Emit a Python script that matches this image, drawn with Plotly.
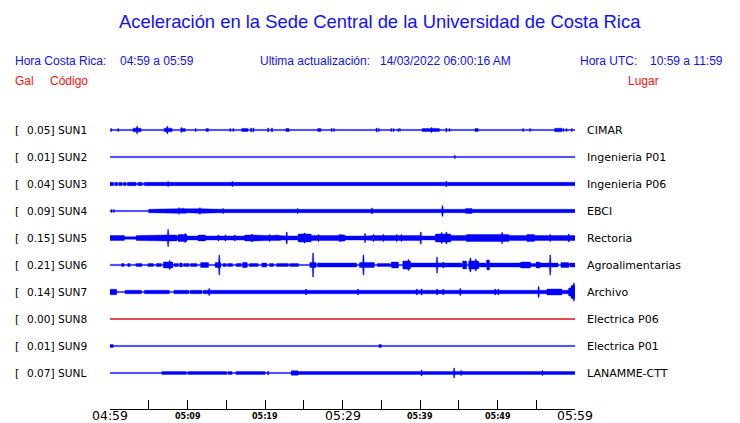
import numpy as np
import plotly.graph_objects as go

# ---------------- data ----------------
CODES = ["SUN1", "SUN2", "SUN3", "SUN4", "SUN5", "SUN6", "SUN7", "SUN8", "SUN9", "SUNL"]
PEAK_GAL = ["0.05", "0.01", "0.04", "0.09", "0.15", "0.21", "0.14", "0.00", "0.01", "0.07"]
PLACES = ["CIMAR", "Ingenieria P01", "Ingenieria P06", "EBCI", "Rectoria",
          "Agroalimentarias", "Archivo", "Electrica P06", "Electrica P01", "LANAMME-CTT"]
TRACE_COLORS = ["#0000ff"] * 7 + ["#dd0000"] + ["#0000ff"] * 2

TICK_MINUTES = list(range(0, 61, 5))
TICK_LABELS = {0: "04:59", 10: "05:09", 20: "05:19", 30: "05:29", 40: "05:39", 50: "05:49", 60: "05:59"}
BIG_TICKS = [0, 30, 60]

# envelope (relative amplitude) read from the record: baseline level,
# (start_min, end_min, level) segments, and (minute, level) short bursts
BASE = [0.6, 0.6, 1.7, 1.7, 2.0, 0.6, 1.8, 0.5, 0.6, 0.6]

SEGS = {
    "SUN1": [(3.0, 4.0, 1.8), (5.7, 6.0, 1.0), (7.0, 8.0, 1.8), (9.2, 9.7, 1.5), (12.4, 12.7, 1.5),
             (17.0, 17.8, 1.5), (22.7, 23.1, 1.5), (26.8, 27.2, 1.5), (40.3, 42.5, 1.5), (46.2, 46.7, 1.3),
             (47.1, 47.5, 1.5), (47.9, 48.4, 1.2), (54.8, 55.3, 1.3), (57.4, 58.3, 1.8)],
    "SUN2": [],
    "SUN3": [(0.5, 0.6, 0.6), (1.0, 1.1, 0.6), (1.6, 1.7, 0.6), (2.1, 2.2, 0.6), (3.4, 3.6, 0.8),
             (4.2, 4.4, 0.8), (12.9, 13.0, 1.0), (14.7, 14.8, 1.0), (19.6, 19.7, 1.0), (28.0, 28.1, 1.0)],
    "SUN4": [(0.0, 4.95, 0.6), (8.6, 9.9, 2.3), (11.0, 12.0, 2.3), (16.6, 16.9, 2.3), (18.9, 19.6, 2.0),
             (35.7, 36.0, 2.3), (36.8, 37.4, 2.3), (38.1, 38.5, 2.0), (39.1, 39.8, 2.3), (45.9, 46.7, 2.5),
             (47.1, 49.9, 2.0), (50.3, 52.9, 2.0), (56.6, 57.0, 2.0), (57.6, 58.1, 2.0), (58.9, 59.7, 1.8)],
    "SUN5": [(0.0, 1.9, 2.5), (1.9, 3.9, 1.2), (3.4, 5.8, 2.5), (5.8, 7.3, 2.5), (7.3, 8.6, 3.0),
             (8.8, 9.9, 3.5), (11.4, 12.3, 3.0), (17.4, 19.6, 3.0), (19.6, 22.0, 2.5), (24.3, 26.0, 4.0),
             (26.0, 29.7, 2.5), (29.7, 30.3, 3.0), (33.1, 40.0, 2.5), (42.0, 44.0, 4.0), (44.0, 46.0, 2.5),
             (46.0, 51.5, 3.5), (51.5, 53.8, 2.5), (53.8, 54.8, 3.5), (54.8, 60.0, 2.5)],
    "SUN6": [(1.5, 1.8, 1.5), (2.3, 2.6, 1.5), (3.2, 3.3, 1.2), (3.4, 4.1, 1.5), (4.5, 4.6, 1.2),
             (4.9, 5.6, 1.5), (6.0, 6.6, 1.5), (6.9, 8.1, 3.0), (8.3, 8.8, 1.5), (9.0, 9.3, 2.0),
             (9.5, 10.2, 1.5), (10.4, 11.2, 1.5), (11.7, 12.7, 2.5), (13.6, 14.3, 2.5), (14.6, 15.0, 1.5),
             (15.2, 15.8, 1.5), (16.3, 16.9, 1.5), (17.1, 17.7, 2.5), (18.0, 19.1, 1.5), (19.6, 20.2, 2.0),
             (20.6, 21.1, 1.5), (21.5, 23.0, 1.5), (23.2, 24.3, 1.5), (24.5, 24.7, 1.2), (25.8, 26.6, 2.5),
             (26.8, 31.8, 2.0), (32.2, 34.1, 2.5), (34.5, 36.2, 1.5), (36.3, 37.2, 3.0), (37.8, 38.8, 4.0),
             (38.8, 45.4, 2.0), (45.5, 46.0, 4.0), (46.3, 47.6, 4.0), (47.6, 48.5, 2.0), (48.6, 49.0, 5.0),
             (49.0, 53.0, 2.0), (53.0, 54.3, 3.0), (54.3, 55.0, 1.5), (55.0, 55.5, 3.0), (55.5, 57.8, 2.0),
             (58.2, 59.2, 2.5), (59.3, 60.0, 2.0)],
    "SUN7": [(0.0, 0.9, 2.8), (0.9, 1.9, 0.6), (4.1, 4.4, 0.6), (7.7, 8.2, 0.6), (10.2, 10.3, 0.6),
             (11.9, 12.0, 0.6), (47.1, 48.6, 2.5), (56.4, 58.3, 3.0), (59.2, 59.5, 4.0), (59.5, 60.0, 6.5)],
    "SUN8": [],
    "SUN9": [(0.0, 0.4, 1.5), (34.7, 35.0, 1.5), (43.7, 45.4, 1.3), (45.9, 46.9, 1.3), (51.7, 52.5, 1.2)],
    "SUNL": [(6.7, 20.0, 1.4), (9.9, 10.0, 0.6), (15.1, 15.2, 0.6), (15.8, 16.2, 0.6), (23.4, 24.3, 2.3),
             (24.3, 60.0, 1.5)],
}

BURSTS = {
    "SUN1": [(0.13, 1.5), (1.07, 1.5), (3.5, 3.7), (6.4, 1.0), (7.4, 3.7), (9.2, 2.5), (11.05, 1.5),
             (14.9, 1.0), (15.5, 1.5), (15.9, 1.5), (18.2, 2.0), (18.5, 2.0), (20.4, 2.0), (20.9, 2.0),
             (22.9, 2.0), (28.2, 1.2), (28.6, 1.5), (28.9, 1.5), (29.5, 1.2), (29.8, 1.2), (30.2, 1.2),
             (31.4, 1.2), (32.0, 1.0), (32.7, 1.0), (34.4, 2.0), (34.7, 1.5), (36.3, 1.5), (36.6, 1.5),
             (37.2, 1.5), (37.4, 1.5), (41.5, 2.5), (43.4, 2.0), (43.8, 1.5), (44.5, 1.2), (45.2, 1.2),
             (45.5, 1.2), (47.3, 2.0), (49.0, 1.2), (49.4, 1.2), (49.9, 1.2), (52.0, 1.0), (52.9, 1.2),
             (53.3, 1.5), (53.8, 1.2), (54.2, 1.5), (57.9, 2.2), (58.5, 1.5), (58.9, 1.5), (59.3, 1.2),
             (59.6, 1.5)],
    "SUN2": [(44.5, 1.6), (46.0, 1.0), (46.3, 1.2), (46.7, 1.0), (47.2, 1.0), (47.7, 1.0), (56.8, 1.2)],
    "SUN3": [(7.5, 2.5), (15.8, 2.5), (43.4, 2.8)],
    "SUN4": [(0.2, 1.5), (0.5, 1.5), (1.7, 1.0), (2.6, 1.0), (3.1, 1.0), (3.4, 1.0), (3.7, 1.2), (4.0, 1.2),
             (4.4, 1.2), (8.9, 3.2), (9.5, 2.8), (11.6, 3.2), (14.6, 2.5), (17.9, 2.0), (20.9, 2.0),
             (24.2, 2.5), (26.9, 2.2), (27.3, 2.2), (28.6, 2.0), (30.9, 2.0), (33.8, 3.0), (42.9, 5.3),
             (44.5, 1.8), (46.2, 3.0), (55.7, 2.0)],
    "SUN5": [(7.5, 8.5), (9.7, 4.5), (14.0, 3.0), (14.9, 3.0), (16.1, 3.0), (18.3, 4.0), (20.6, 3.5),
             (21.7, 3.0), (22.8, 6.0), (25.1, 5.0), (26.9, 3.5), (29.6, 3.5), (30.0, 3.5), (32.9, 4.5),
             (34.0, 3.5), (35.3, 3.5), (37.0, 3.5), (37.6, 3.5), (40.1, 6.0), (42.8, 5.5), (43.4, 6.0),
             (44.9, 3.0), (46.4, 3.0), (47.2, 4.0), (50.6, 5.5), (56.8, 3.5), (59.2, 4.0)],
    "SUN6": [(7.7, 4.5), (12.2, 3.0), (14.1, 10.0), (16.8, 2.0), (26.2, 12.0), (32.7, 10.0), (38.5, 5.5),
             (42.2, 8.0), (43.0, 3.0), (46.5, 7.0), (47.2, 6.0), (48.8, 5.0), (56.8, 10.0)],
    "SUN7": [(0.4, 3.5), (12.8, 3.5), (15.0, 2.5), (19.9, 2.5), (21.0, 2.5), (22.1, 2.5), (23.0, 2.5),
             (25.3, 3.0), (28.1, 2.5), (29.6, 2.5), (32.0, 3.0), (35.3, 2.5), (37.4, 2.5), (39.6, 3.0),
             (40.2, 3.0), (42.2, 3.0), (43.0, 3.0), (43.7, 2.5), (45.2, 3.5), (49.7, 3.0), (50.1, 3.0),
             (51.2, 2.5), (51.6, 2.5), (53.3, 2.5), (55.3, 5.5), (59.85, 9.0)],
    "SUN8": [],
    "SUN9": [(4.5, 1.1), (5.2, 1.1), (8.9, 1.0), (13.0, 1.2), (13.3, 1.2), (14.0, 1.0), (15.8, 1.2),
             (17.2, 1.2), (17.5, 1.2), (18.4, 1.0), (26.1, 1.2), (26.8, 1.0), (27.7, 1.0), (30.1, 1.0),
             (32.0, 1.0), (37.9, 1.0), (42.4, 1.0), (43.0, 1.0), (48.0, 1.0), (50.3, 1.0), (53.1, 1.0),
             (54.4, 1.0), (55.2, 1.2), (55.5, 1.2), (56.6, 1.0), (59.0, 1.2)],
    "SUNL": [(0.2, 1.0), (0.6, 1.0), (1.9, 1.0), (2.6, 1.0), (3.2, 1.0), (4.1, 1.0), (4.7, 1.0), (5.8, 1.0),
             (6.2, 1.0), (20.4, 2.0), (20.9, 1.3), (21.5, 1.3), (22.2, 1.3), (22.8, 1.3), (40.2, 3.0),
             (44.4, 5.0), (45.3, 2.5), (55.8, 2.5), (58.8, 2.0), (59.6, 2.0)],
}

HEADER_TITLE = "Aceleración en la Sede Central de la Universidad de Costa Rica"

# ---------------- figure ----------------
OFF = 8                      # page body margin of the browser
W, H = 740 - OFF, 423 - OFF
PLOT_L, PLOT_R, PLOT_T, PLOT_B = 110, 575, 110, 409   # target page pixels
ML, MT = PLOT_L - OFF, PLOT_T - OFF
MR = W - (PLOT_R - OFF)
MB = H - (PLOT_B - OFF)
PLOT_W = PLOT_R - PLOT_L
PLOT_H = PLOT_B - PLOT_T
ROW_PX = 27.0
FIRST_ROW_PX = 130.0
y_top = -(FIRST_ROW_PX - PLOT_T) / ROW_PX
y_bot = y_top + PLOT_H / ROW_PX
AMP = 1.0 / ROW_PX

t = np.arange(0.0, 60.0 + 1e-9, 0.05)
fig = go.Figure()

for i, code in enumerate(CODES):
    env = np.full_like(t, BASE[i])
    for (a, b, v) in SEGS[code]:
        env[(t >= a - 1e-9) & (t <= b + 1e-9)] = v
    for (m, v) in BURSTS[code]:
        mask = np.abs(t - m) <= 0.075
        env[mask] = np.maximum(env[mask], v)
    upper = i + env * AMP
    lower = i - env * AMP
    xs = np.concatenate([t, t[::-1]])
    ys = np.concatenate([upper, lower[::-1]])
    fig.add_trace(go.Scatter(x=xs, y=ys, mode="lines", fill="toself",
                             fillcolor=TRACE_COLORS[i],
                             line=dict(color=TRACE_COLORS[i], width=0.4),
                             hoverinfo="skip", showlegend=False))

def px_to_paper_x(px):
    return (px - PLOT_L) / PLOT_W

def px_to_paper_y(py):
    return (PLOT_B - py) / PLOT_H

ann = []
LBL_FONT = dict(family="DejaVu Sans", size=11, color="black")
for i, code in enumerate(CODES):
    ann.append(dict(x=px_to_paper_x(13), xref="paper", y=i, yref="y", text="[",
                    xanchor="left", yanchor="middle", showarrow=False, font=LBL_FONT))
    ann.append(dict(x=px_to_paper_x(25), xref="paper", y=i, yref="y",
                    text=f"{PEAK_GAL[i]}] {code}",
                    xanchor="left", yanchor="middle", showarrow=False,
                    font=dict(family="DejaVu Sans", size=10.6, color="black")))
    ann.append(dict(x=px_to_paper_x(585), xref="paper", y=i, yref="y", text=PLACES[i],
                    xanchor="left", yanchor="middle", showarrow=False, font=LBL_FONT))

for m, lab in TICK_LABELS.items():
    big = m in BIG_TICKS
    ann.append(dict(x=m, xref="x", y=px_to_paper_y(415 if big else 416), yref="paper", text=lab,
                    xanchor="center", yanchor="middle", showarrow=False, borderpad=0,
                    font=dict(family="DejaVu Sans", size=12.5 if big else 8,
                              weight="normal" if big else "bold", color="black")))

BLUE = "#1010ff"
RED = "#ff1010"
HFONT = dict(family="Liberation Sans, Arial", size=12, color=BLUE)
ann.append(dict(x=px_to_paper_x(380), xref="paper", y=px_to_paper_y(22), yref="paper",
                text=HEADER_TITLE, xanchor="center", yanchor="middle", showarrow=False,
                font=dict(family="Liberation Sans, Arial", size=18.4, color=BLUE)))
for px, txt in [(13, "Hora Costa Rica:"), (118, "04:59 a 05:59"),
                (258, "Ultima actualización:"), (378, "14/03/2022 06:00:16 AM"),
                (578, "Hora UTC:"), (648, "10:59 a 11:59")]:
    ann.append(dict(x=px_to_paper_x(px), xref="paper", y=px_to_paper_y(61), yref="paper",
                    text=txt, xanchor="left", yanchor="middle", showarrow=False, font=HFONT))
for px, txt in [(13, "Gal"), (48, "Código"), (626, "Lugar")]:
    ann.append(dict(x=px_to_paper_x(px), xref="paper", y=px_to_paper_y(81), yref="paper",
                    text=txt, xanchor="left", yanchor="middle", showarrow=False,
                    font=dict(family="Liberation Sans, Arial", size=12, color=RED)))

fig.update_layout(
    width=W, height=H,
    margin=dict(l=ML, r=MR, t=MT, b=MB, pad=0),
    paper_bgcolor="white", plot_bgcolor="white",
    showlegend=False,
    annotations=ann,
    xaxis=dict(range=[0, 60], tickvals=TICK_MINUTES, ticks="inside", ticklen=9,
               tickcolor="black", tickwidth=1, showticklabels=False,
               showline=True, linecolor="black", linewidth=1,
               showgrid=False, zeroline=False, fixedrange=True),
    yaxis=dict(range=[y_bot, y_top], visible=False, showgrid=False, zeroline=False,
               fixedrange=True),
)

fig.write_html("out.html")
